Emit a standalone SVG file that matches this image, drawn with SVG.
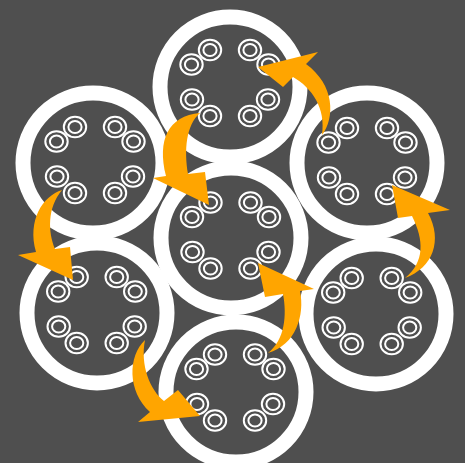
<svg xmlns="http://www.w3.org/2000/svg" xmlns:xlink="http://www.w3.org/1999/xlink" width="465" height="463" viewBox="0 0 465 463">
<style>
.ring{fill:none;stroke:#ffffff;stroke-width:15}
.pin{fill:none;stroke:#ffffff;stroke-width:2}
.arrow{fill:#ffa500;stroke:none}
</style>
<defs>
<g id="pin"><ellipse class="pin" cx="0" cy="0" rx="11.2" ry="10.2"/><ellipse class="pin" cx="0" cy="0" rx="6.6" ry="6.1"/></g>
<g id="pins">
<use href="#pin" x="-20" y="-33"/><use href="#pin" x="-38.5" y="-18.5"/>
<use href="#pin" x="20" y="-33"/><use href="#pin" x="38.5" y="-18.5"/>
<use href="#pin" x="-38" y="16.5"/><use href="#pin" x="-20" y="33"/>
<use href="#pin" x="38" y="16.5"/><use href="#pin" x="20" y="33"/>
</g>
</defs>
<rect x="0" y="0" width="465" height="463" fill="#4f4f4f"/>
<g id="node-top"><circle class="ring" cx="230" cy="87" r="70"/><use href="#pins" x="230" y="83"/></g>
<g id="node-top-left"><circle class="ring" cx="93" cy="163" r="70"/><use href="#pins" x="95" y="160"/></g>
<g id="node-top-right"><circle class="ring" cx="367" cy="163" r="70"/><use href="#pins" x="367" y="161"/></g>
<g id="node-center"><circle class="ring" cx="231" cy="238" r="70"/><use href="#pins" x="230.5" y="235.5"/></g>
<g id="node-bottom-left"><circle class="ring" cx="97" cy="313" r="70"/><use href="#pins" x="96.7" y="310"/></g>
<g id="node-bottom-right"><circle class="ring" cx="376" cy="314" r="70"/><use href="#pins" x="371.7" y="311"/></g>
<g id="node-bottom"><circle class="ring" cx="236" cy="392" r="70"/><use href="#pins" x="235" y="387.5"/></g>
<g id="connectors">
<path class="arrow" d="M322,135 C335,118 335,85 306,64 L318,52 L258,67 L283,87 L293,77 C312,88 326,108 322,135 Z"/>
<path class="arrow" d="M200,113 C168,116 157,140 166,176 L153,178 L209,205 L205,172 L188,174 C184,150 186,125 200,113 Z"/>
<path class="arrow" d="M62,190 C43,196 27,220 36,252 L18,255 L73,280 L70,247 L55,249 C48,232 47,208 62,190 Z"/>
<path class="arrow" d="M145,340 C128,356 127,391 150,412 L138,422 L200,416 L178,390 L164,401 C150,390 140,365 145,340 Z"/>
<path class="arrow" d="M268,353 C296,345 305,315 300,291 L314,289 L258,263 L265,297 L283,294 C287,315 285,340 268,353 Z"/>
<path class="arrow" d="M405,278 C433,268 443,240 428,213 L450,210 L392,185 L398,218 L412,216 C424,240 425,262 405,278 Z"/>
</g>
</svg>
